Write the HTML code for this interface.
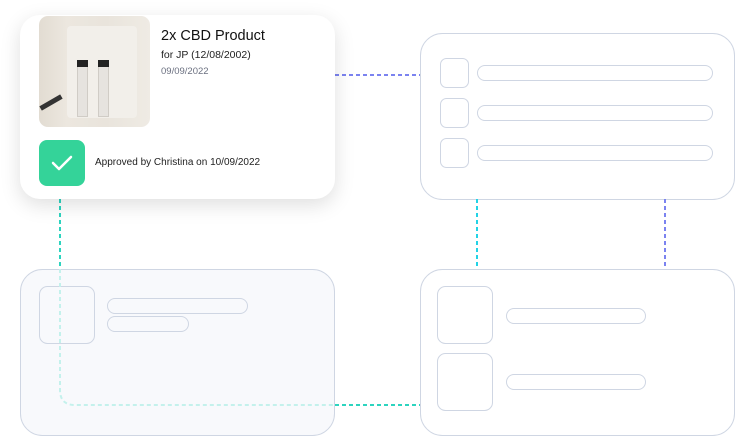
<!DOCTYPE html>
<html><head><meta charset="utf-8"><style>
body{margin:0;width:735px;height:436px;background:#fff;overflow:hidden;position:relative;font-family:"Liberation Sans",sans-serif}
svg{position:absolute;left:0;top:0}
.card{position:absolute;left:20px;top:15px;width:315px;height:184px;background:#fff;border-radius:20px;box-shadow:0 6px 20px rgba(0,0,0,0.13)}
.img{position:absolute;left:19px;top:1px;width:111px;height:111px;border-radius:9px;overflow:hidden;background:linear-gradient(90deg,#e2dcd2 0%,#ece7df 25%,#e9e4dc 60%,#efebe4 100%)}
.t1{position:absolute;left:141px;top:13px;font-size:14.5px;color:#111}
.t2{position:absolute;left:141px;top:34px;font-size:10.5px;color:#222}
.t3{position:absolute;left:141px;top:51px;font-size:9.5px;color:#6b7080}
.chk{position:absolute;left:19px;top:125px;width:46px;height:46px;border-radius:8px;background:#34d399}
.ap{position:absolute;left:75px;top:142px;font-size:10px;color:#222}
</style></head><body>
<svg width="735" height="436">
<g fill="none" stroke="#cfd6e3" stroke-width="1">
<rect x="20.5" y="269.5" width="314" height="166" rx="22" fill="#f8f9fc"/>
<rect x="39.5" y="286.5" width="55" height="57" rx="8"/>
<rect x="107.5" y="298.5" width="140" height="15" rx="7.5"/>
<rect x="107.5" y="316.5" width="81" height="15" rx="7.5"/>
<rect x="420.5" y="33.5" width="314" height="166" rx="22" fill="#fff"/>
<rect x="440.5" y="58.5" width="28" height="29" rx="6"/>
<rect x="440.5" y="98.5" width="28" height="29" rx="6"/>
<rect x="440.5" y="138.5" width="28" height="29" rx="6"/>
<rect x="477.5" y="65.5" width="235" height="15" rx="7.5"/>
<rect x="477.5" y="105.5" width="235" height="15" rx="7.5"/>
<rect x="477.5" y="145.5" width="235" height="15" rx="7.5"/>
<rect x="420.5" y="269.5" width="314" height="166" rx="22" fill="#fff"/>
<rect x="437.5" y="286.5" width="55" height="57" rx="8"/>
<rect x="437.5" y="353.5" width="55" height="57" rx="8"/>
<rect x="506.5" y="308.5" width="139" height="15" rx="7.5"/>
<rect x="506.5" y="374.5" width="139" height="15" rx="7.5"/>
</g>
<g fill="none" stroke-width="2" stroke-dasharray="4 3">
<line x1="335" y1="75" x2="420" y2="75" stroke="#7b83f0"/>
<line x1="477" y1="199" x2="477" y2="269" stroke="#22d3e6"/>
<line x1="665" y1="199" x2="665" y2="269" stroke="#7b83f0"/>
<line x1="60" y1="199" x2="60" y2="269" stroke="#2dd4bf"/>
<path d="M60 269 V390 Q60 405 75 405 H335" stroke="#c4f1ec"/>
<line x1="335" y1="405" x2="420" y2="405" stroke="#2dd4bf"/>
</g>
</svg>
<div class="card">
<div class="img">
<div style="position:absolute;left:28px;top:10px;width:70px;height:92px;background:#f2efea;border-radius:4px"></div>
<div style="position:absolute;left:38px;top:44px;width:9px;height:55px;background:#e6e3df;border:1px solid #d0ccc6"></div>
<div style="position:absolute;left:38px;top:44px;width:11px;height:7px;background:#222"></div>
<div style="position:absolute;left:59px;top:44px;width:9px;height:55px;background:#e6e3df;border:1px solid #d0ccc6"></div>
<div style="position:absolute;left:59px;top:44px;width:11px;height:7px;background:#222"></div>
<div style="position:absolute;left:0;top:84px;width:24px;height:5px;background:#333;transform:rotate(-30deg)"></div>
</div>
<div class="t1">2x CBD Product</div>
<div class="t2">for JP (12/08/2002)</div>
<div class="t3">09/09/2022</div>
<div class="chk"><svg width="46" height="46"><path d="M14 23 L20 29 L32 17" fill="none" stroke="#fff" stroke-width="2.5" stroke-linecap="round" stroke-linejoin="round"/></svg></div>
<div class="ap">Approved by Christina on 10/09/2022</div>
</div>
</body></html>
